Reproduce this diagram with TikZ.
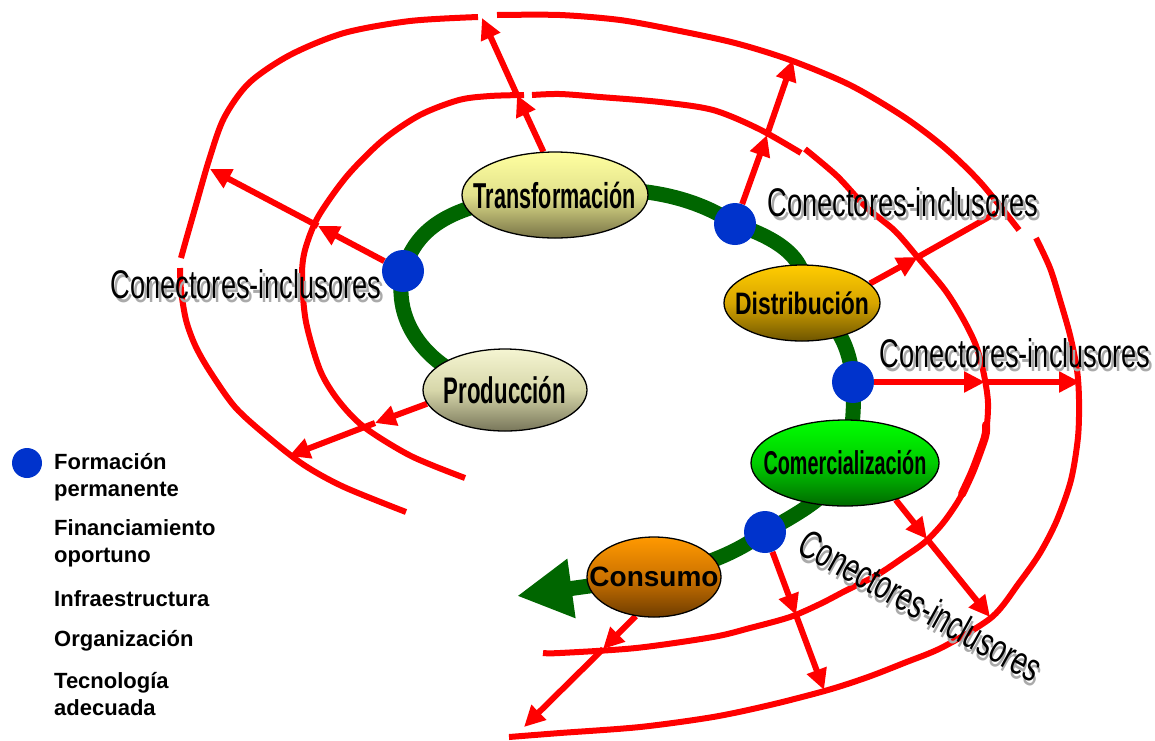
\documentclass[tikz,border=0pt]{standalone}
\usepackage{fontspec}
\setmainfont{Liberation Sans}
\newfontfamily\conectfont{Liberation Sans}[FakeStretch=0.68]
\newfontfamily\stagefont{Liberation Sans}[FakeStretch=0.6]
\newfontfamily\stagewidefont{Liberation Sans}[FakeStretch=0.74]
\usepackage{tikz}
\usetikzlibrary{positioning, calc, arrows.meta, shapes.geometric, backgrounds}

\definecolor{ringred}{RGB}{255,0,0}
\definecolor{flowgreen}{RGB}{0,102,0}
\definecolor{hubblue}{RGB}{0,51,204}
\definecolor{shadowgray}{RGB}{170,170,170}
\definecolor{transtop}{RGB}{255,255,160}
\definecolor{transmid}{RGB}{225,225,140}
\definecolor{transbot}{RGB}{120,115,70}
\definecolor{prodtop}{RGB}{245,245,210}
\definecolor{prodmid}{RGB}{215,215,170}
\definecolor{prodbot}{RGB}{120,118,90}
\definecolor{disttop}{RGB}{255,204,0}
\definecolor{distmid}{RGB}{215,165,0}
\definecolor{distbot}{RGB}{110,85,0}
\definecolor{commtop}{RGB}{0,255,0}
\definecolor{commmid}{RGB}{0,205,0}
\definecolor{commbot}{RGB}{0,105,0}
\definecolor{constop}{RGB}{255,153,0}
\definecolor{consmid}{RGB}{205,115,0}
\definecolor{consbot}{RGB}{110,60,0}

\newcommand{\shadowed}[1]{\makebox[0pt][l]{\hspace*{3pt}\raisebox{-4pt}{\textcolor{shadowgray}{#1}}}#1}

\tikzset{
  ring/.style={draw=ringred, line width=6pt},
  link/.style={draw=ringred, line width=6pt, -{Triangle[length=21pt,width=20pt]}},
  flow/.style={draw=flowgreen, line width=15pt},
  stage/.style={ellipse, draw=black, line width=1.3pt, inner xsep=-20pt, inner ysep=0pt},
  hub/.style={circle, fill=hubblue, minimum size=42pt, inner sep=0pt},
  conector/.style={font=\conectfont\fontsize{40}{40}\selectfont, inner sep=0pt},
  legend/.style={font=\bfseries\fontsize{22}{27}\selectfont, align=left, anchor=north west, inner sep=0pt}
}

\begin{document}
\begin{tikzpicture}[x=1pt, y=-1pt]
                \useasboundingbox (0,0) rectangle (1155,740);

                % 段階の楕円
                \node[stage, minimum width=186pt, minimum height=86pt, top color=transtop, bottom color=transbot, middle color=transmid, font=\stagefont\bfseries\fontsize{36}{36}\selectfont] (trans) at (555,195) {Transformación};
                \node[stage, minimum width=164pt, minimum height=82pt, top color=prodtop, bottom color=prodbot, middle color=prodmid, font=\stagefont\bfseries\fontsize{37}{37}\selectfont] (prod) at (505,390) {Producción};
                \node[stage, minimum width=156pt, minimum height=76pt, top color=disttop, bottom color=distbot, middle color=distmid, font=\stagewidefont\bfseries\fontsize{31}{31}\selectfont] (dist) at (802,303) {Distribución};
                \node[stage, minimum width=188pt, minimum height=86pt, top color=commtop, bottom color=commbot, middle color=commmid, font=\stagefont\bfseries\fontsize{33}{33}\selectfont] (comm) at (845,463) {Comercialización};
                \node[stage, minimum width=134pt, minimum height=80pt, top color=constop, bottom color=consbot, middle color=consmid, font=\bfseries\fontsize{28}{28}\selectfont] (cons) at (654,577) {Consumo};

                % 青い点
                \node[hub] (hubL) at (403,271) {};
                \node[hub] (hubT) at (735,224) {};
                \node[hub] (hubR) at (853,382) {};
                \node[hub] (hubC) at (765,532) {};

                % 矢印の中間点と終点
                \coordinate (m1) at (517,95);  \coordinate (e1) at (482,18);
                \coordinate (m2) at (318,226); \coordinate (e2) at (210,169);
                \coordinate (m3) at (375,423); \coordinate (e3) at (289,456);
                \coordinate (m4) at (767,135); \coordinate (e4) at (793,60);
                \coordinate (m5) at (918,257); \coordinate (e5) at (996,213);
                \coordinate (m6) at (985,382); \coordinate (e6) at (1080,382);
                \coordinate (m7) at (927,539); \coordinate (e7) at (990,617);
                \coordinate (m8) at (796,615); \coordinate (e8) at (824,690);
                \coordinate (m9) at (603,649); \coordinate (e9) at (524,727);
                \coordinate (tip) at (517,596);

                \begin{pgfonlayer}{background}
                % 赤い輪
                \draw[ring] plot[smooth] coordinates {(478,17) (410,21) (344,33) (290,55) (249,83) (224,118) (209,160) (196,205) (186,240) (181,258)};
                \draw[ring] plot[smooth] coordinates {(180,268) (181,290) (186,320) (195,345) (209,370) (235,407) (268,437) (304,465) (344,487) (406,512)};
                \draw[ring] plot[smooth] coordinates {(497,15) (560,15) (620,20) (675,30) (735,43) (790,60) (850,85) (904,117) (945,148) (981,183) (1019,230)};
                \draw[ring] plot[smooth] coordinates {(1036,238) (1050,268) (1060,300) (1070,335) (1077,370) (1079,400) (1078,437) (1071,480) (1057,520) (1040,553) (1019,583) (992,617) (943,647) (904,663) (868,677) (828,690) (770,705) (713,717) (640,727) (560,733) (509,737)};
                \draw[ring] plot[smooth] coordinates {(524,95) (490,96) (459,100) (420,115) (383,140) (347,176) (318,217) (305,250) (302,277) (306,322) (320,370) (338,400) (364,427) (411,456) (465,478)};
                \draw[ring] plot[smooth] coordinates {(532,95) (560,94) (600,97) (660,102) (713,110) (759,129) (801,153)};
                \draw[ring] plot[smooth] coordinates {(805,149) (837,176) (866,207) (895,231) (920,260) (945,290) (962,317) (975,343) (983,370) (988,403) (985,437) (973,470) (960,498) (943,523) (925,542) (904,557) (877,575) (847,590) (820,604) (790,617) (750,628) (713,637) (636,648) (560,653) (543,653)};
                \draw[ring, line width=8pt, line cap=round] plot[smooth] coordinates {(986,425) (985,437) (973,470) (962,494)};

                % 赤い矢印
                \draw[link] (trans.105) -- (m1);
                \draw[link] (m1) -- (e1);
                \draw[link] (hubL) -- (m2);
                \draw[link] (m2) -- (e2);
                \draw[link] (prod.190) -- (m3);
                \draw[link] (m3) -- (e3);
                \draw[link] (hubT) -- (m4);
                \draw[link] (m4) -- (e4);
                \draw[link] (dist.16) -- (m5);
                \draw[ring] (m5) -- (e5);
                \draw[link] (hubR) -- (m6);
                \draw[link] (m6) -- (e6);
                \draw[link] (comm.-36) -- (m7);
                \draw[link] (m7) -- (e7);
                \draw[link] (hubC) -- (m8);
                \draw[link] (m8) -- (e8);
                \draw[link] (cons.245) -- (m9);
                \draw[link] (m9) -- (e9);

                % 緑の流れ
                \draw[flow] (prod.center) .. controls (440,380) and (390,330) .. (hubL.center)
                            .. controls (415,235) and (440,200) .. (trans.center);
                \draw[flow] (trans.center) .. controls (640,180) and (700,200) .. (hubT.center)
                            .. controls (775,238) and (815,258) .. (dist.center);
                \draw[flow] (dist.center) .. controls (835,315) and (850,345) .. (hubR.center)
                            .. controls (855,420) and (850,440) .. (comm.center);
                \draw[flow] (comm.center) .. controls (835,495) and (795,515) .. (hubC.center)
                            .. controls (740,550) and (710,565) .. (cons.center);
                \draw[flow, -{Triangle[length=55pt,width=56pt]}] (cons.center) -- (tip);
                \end{pgfonlayer}

                % ラベル
                \node[conector, anchor=base] (conL) at (246,298) {\shadowed{Conectores-inclusores}};
                \node[conector, anchor=base] (conT) at (903,216) {\shadowed{Conectores-inclusores}};
                \node[conector, anchor=base] (conR) at (1015,367) {\shadowed{Conectores-inclusores}};
                \node[conector, rotate=-29] (conC) at (920,607) {\shadowed{Conectores-inclusores}};

                % 凡例
                \node[hub, minimum size=30pt] (keydot) at (27,463) {};
                \node[legend] (key1) at (54,453) {Formación\\permanente};
                \node[legend] (key2) at (54,519) {Financiamiento\\oportuno};
                \node[legend] (key3) at (54,590) {Infraestructura};
                \node[legend] (key4) at (54,630) {Organización};
                \node[legend] (key5) at (54,672) {Tecnología\\adecuada};
\end{tikzpicture}
\end{document}
